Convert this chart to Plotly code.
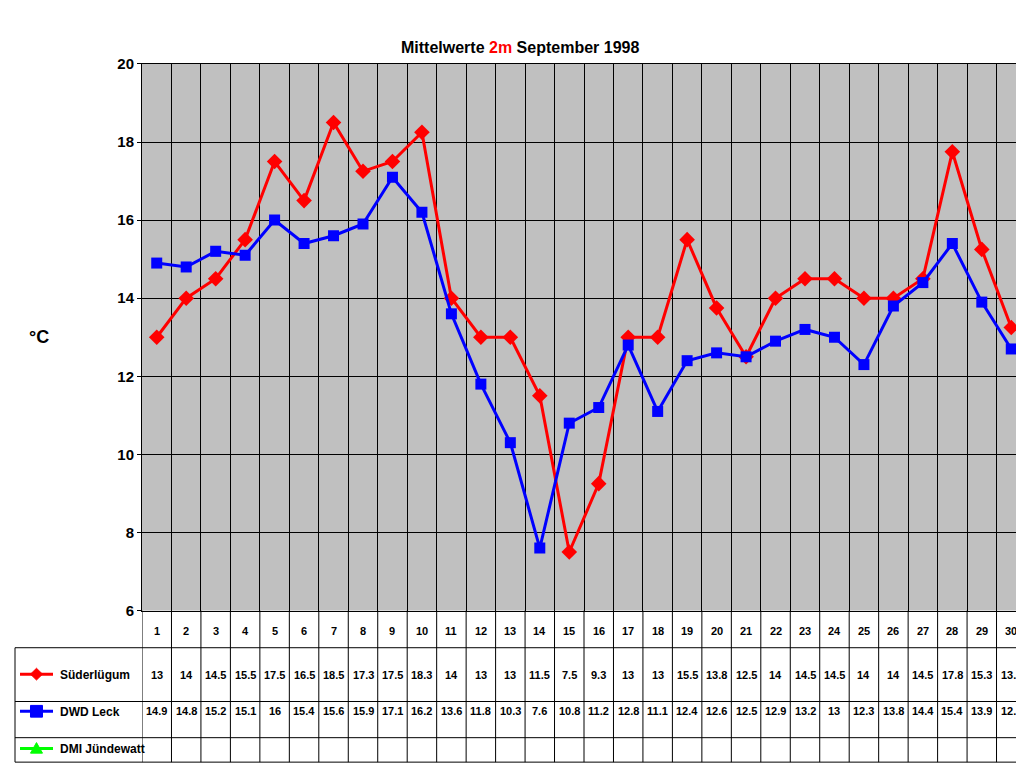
import plotly.graph_objects as go

# ── Data ──────────────────────────────────────────────────────────
DAYS = list(range(1, 31))
SUEDERLUEGUM = [13, 14, 14.5, 15.5, 17.5, 16.5, 18.5, 17.25, 17.5, 18.25,
                14, 13, 13, 11.5, 7.5, 9.25, 13, 13, 15.5, 13.75,
                12.5, 14, 14.5, 14.5, 14, 14, 14.5, 17.75, 15.25, 13.25]
DWD_LECK = [14.9, 14.8, 15.2, 15.1, 16, 15.4, 15.6, 15.9, 17.1, 16.2,
            13.6, 11.8, 10.3, 7.6, 10.8, 11.2, 12.8, 11.1, 12.4, 12.6,
            12.5, 12.9, 13.2, 13, 12.3, 13.8, 14.4, 15.4, 13.9, 12.7]
SERIES = ["Süderlügum", "DWD Leck", "DMI Jündewatt"]
COLORS = ["#FF0000", "#0000FF", "#00FF00"]
Y_TICKS = [6, 8, 10, 12, 14, 16, 18, 20]

W, H = 1024, 768
FONT = "Liberation Sans, Arial, sans-serif"


def px(x):
    return x / W


def py(y):
    return 1 - y / H


def fmt(v):
    s = f"{v + 1e-9:.1f}"
    return s[:-2] if s.endswith(".0") else s


def sample_marker(i, cx, cy, r=6):
    # small legend-sample glyph as an SVG path in paper coords
    if i == 0:
        pts = [(cx, cy - r), (cx + r, cy), (cx, cy + r), (cx - r, cy)]
    elif i == 1:
        pts = [(cx - r, cy - r), (cx + r, cy - r), (cx + r, cy + r), (cx - r, cy + r)]
    else:
        pts = [(cx, cy - r), (cx + r, cy + r * 0.8), (cx - r, cy + r * 0.8)]
    path = "M " + " L ".join(f"{px(a):.5f},{py(b):.5f}" for a, b in pts) + " Z"
    return dict(type="path", xref="paper", yref="paper", path=path,
                fillcolor=COLORS[i], line=dict(color=COLORS[i], width=1))


fig = go.Figure()

fig.add_trace(go.Scatter(x=DAYS, y=SUEDERLUEGUM, mode="lines+markers", name=SERIES[0],
                         line=dict(color=COLORS[0], width=3),
                         marker=dict(symbol="diamond", size=12, color=COLORS[0])))
fig.add_trace(go.Scatter(x=DAYS, y=DWD_LECK, mode="lines+markers", name=SERIES[1],
                         line=dict(color=COLORS[1], width=3),
                         marker=dict(symbol="square", size=11, color=COLORS[1])))

shapes = []
# legend samples
row_y = [672, 710, 748]
for i in range(3):
    shapes.append(dict(type="line", xref="paper", yref="paper", x0=px(12), x1=px(45),
                       y0=py(row_y[i]), y1=py(row_y[i]), line=dict(color=COLORS[i], width=3)))
    shapes.append(sample_marker(i, 28.5, row_y[i]))
    fig.add_annotation(x=px(50), y=py(row_y[i] + 10), xref="paper", yref="paper",
                       text=SERIES[i], showarrow=False, xanchor="left",
                       font=dict(size=12, family=FONT, color="black", weight="bold"))

# table lines
for k in range(31):
    shapes.append(dict(type="line", xref="x", yref="paper", x0=k + 0.5, x1=k + 0.5,
                       y0=py(762), y1=py(607), line=dict(color="black", width=1)))
for yy in [645, 700, 737, 762]:
    shapes.append(dict(type="line", xref="paper", yref="paper", x0=px(7), x1=px(1018),
                       y0=py(yy), y1=py(yy), line=dict(color="black", width=1)))
shapes.append(dict(type="line", xref="paper", yref="paper", x0=px(7), x1=px(7),
                   y0=py(762), y1=py(645), line=dict(color="black", width=1)))

# table text
tfont = dict(size=11, family=FONT, color="black", weight="bold")
for i, d in enumerate(DAYS):
    fig.add_annotation(x=d, y=py(636), xref="x", yref="paper", text=str(d),
                       showarrow=False, font=tfont)
    fig.add_annotation(x=d, y=py(681), xref="x", yref="paper", text=fmt(SUEDERLUEGUM[i]),
                       showarrow=False, font=tfont)
    fig.add_annotation(x=d, y=py(718), xref="x", yref="paper", text=fmt(DWD_LECK[i]),
                       showarrow=False, font=tfont)

fig.add_annotation(x=0.5, y=py(20), xref="paper", yref="paper", showarrow=False,
                   text="Mittelwerte <span style='color:#FF0000'>2m</span> September 1998",
                   font=dict(size=16, family=FONT, color="black", weight="bold"))
fig.add_annotation(x=px(19), y=py(327), xref="paper", yref="paper", showarrow=False,
                   text="°C", font=dict(size=18, family=FONT, color="black", weight="bold"))

fig.update_layout(
    width=W, height=H, margin=dict(l=0, r=0, t=0, b=0),
    paper_bgcolor="white", plot_bgcolor="#C0C0C0", showlegend=False,
    shapes=shapes,
    xaxis=dict(domain=[px(134), px(1018)], range=[0.5, 30.5],
               tickvals=[k + 0.5 for k in range(31)], showticklabels=False,
               showgrid=True, gridcolor="black", gridwidth=1, zeroline=False,
               ticks="", showline=True, linecolor="black", mirror=True),
    yaxis=dict(domain=[py(607), py(48)], range=[6, 20], tickvals=Y_TICKS,
               showgrid=True, gridcolor="black", gridwidth=1, zeroline=False,
               ticks="outside", ticklen=4, tickcolor="black",
               showline=True, linecolor="black", mirror=True,
               tickfont=dict(size=15, family=FONT, color="black", weight="bold")),
)

fig.write_html("out.html")
